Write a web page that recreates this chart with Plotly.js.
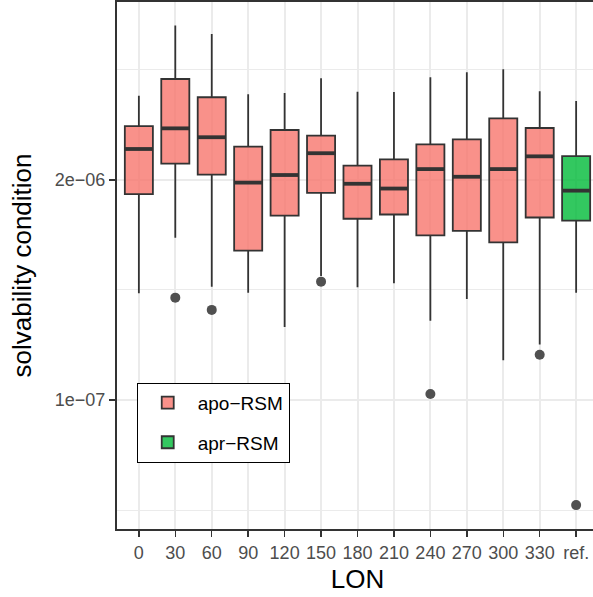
<!DOCTYPE html>
<html>
<head>
<meta charset="utf-8">
<script src="https://cdn.plot.ly/plotly-3.0.1.min.js"></script>
<style>html,body{margin:0;padding:0;overflow:hidden;background:#fff;}</style>
</head>
<body>
<div id="chart" style="width:600px;height:597px;"></div>
<script>
const categories = ['0','30','60','90','120','150','180','210','240','270','300','330','ref.'];

// apo-RSM (LON 0..330)
const apoCats   = ['0','30','60','90','120','150','180','210','240','270','300','330'];
const apoLower  = [4.28e-7, 9.12e-7, 4.68e-7, 4.31e-7, 2.70e-7, 5.41e-7, 4.64e-7, 4.90e-7, 2.94e-7, 3.96e-7, 1.72e-7, 2.13e-7];
const apoQ1     = [1.65e-6, 2.50e-6, 2.15e-6, 7.64e-7, 1.23e-6, 1.68e-6, 1.18e-6, 1.25e-6, 9.42e-7, 9.99e-7, 8.56e-7, 1.20e-6];
const apoMedian = [3.05e-6, 4.04e-6, 3.58e-6, 1.93e-6, 2.14e-6, 2.88e-6, 1.90e-6, 1.78e-6, 2.32e-6, 2.09e-6, 2.32e-6, 2.76e-6];
const apoQ3     = [4.17e-6, 7.91e-6, 6.17e-6, 3.15e-6, 3.95e-6, 3.66e-6, 2.43e-6, 2.65e-6, 3.25e-6, 3.48e-6, 4.63e-6, 4.06e-6];
const apoUpper  = [6.30e-6, 1.64e-5, 1.46e-5, 6.42e-6, 6.54e-6, 7.99e-6, 6.66e-6, 6.63e-6, 8.10e-6, 8.67e-6, 9.03e-6, 6.69e-6];

// apr-RSM (reference)
const aprCats   = ['ref.'];
const aprLower  = [4.31e-7];
const aprQ1     = [1.15e-6];
const aprMedian = [1.73e-6];
const aprQ3     = [2.77e-6];
const aprUpper  = [5.86e-6];

// outliers
const outlierCats   = ['30','60','120','150','240','330','ref.'];
const outlierValues = [4.03e-7, 3.41e-7, 5.72e-8, 5.01e-7, 1.085e-7, 1.85e-7, 2.39e-8];

const yTickVals = [1e-7, 2e-6];
const yTickText = ['1e\u221207', '2e\u221206'];
const yMinorVals = [2.236e-8, 4.472e-7, 8.944e-6];

const idx = c => categories.indexOf(c);
const BOXW = 0.77;

function boxTrace(name, cats, lo, q1, med, q3, up, fill) {
  return {
    type: 'box', name: name,
    x: cats.map(idx), lowerfence: lo, q1: q1, median: med, q3: q3, upperfence: up,
    width: BOXW, whiskerwidth: 0, boxpoints: false,
    fillcolor: fill, line: {color: '#333333', width: 1.8},
    hoverinfo: 'skip', legendgroup: name
  };
}
function medianTrace(cats, med) {
  const xs = [], ys = [];
  cats.forEach((c, i) => { const k = idx(c); xs.push(k - BOXW/2, k + BOXW/2, null); ys.push(med[i], med[i], null); });
  return {type: 'scatter', mode: 'lines', x: xs, y: ys, line: {color: '#333333', width: 3.8},
          showlegend: false, hoverinfo: 'skip'};
}

const data = [
  boxTrace('apo\u2212RSM', apoCats, apoLower, apoQ1, apoMedian, apoQ3, apoUpper, 'rgba(248,118,109,0.8)'),
  boxTrace('apr\u2212RSM', aprCats, aprLower, aprQ1, aprMedian, aprQ3, aprUpper, 'rgba(0,186,56,0.8)'),
  medianTrace(apoCats, apoMedian),
  medianTrace(aprCats, aprMedian),
  {type: 'scatter', mode: 'markers', x: outlierCats.map(idx), y: outlierValues,
   marker: {color: '#505050', size: 10}, showlegend: false, hoverinfo: 'skip'}
];

const layout = {
  width: 600, height: 597,
  margin: {l: 117, r: 2, t: 2, b: 68},
  paper_bgcolor: '#fff', plot_bgcolor: '#fff',
  font: {family: 'Liberation Sans, Arial, sans-serif', color: '#000'},
  boxmode: 'overlay',
  showlegend: true,
  legend: {x: 0.041, y: 0.2776, xanchor: 'left', yanchor: 'top',
           bgcolor: '#fff', bordercolor: '#000', borderwidth: 1,
           font: {size: 19, color: '#000'}, tracegroupgap: 12, traceorder: 'grouped',
           itemwidth: 50},
  xaxis: {
    range: [-0.6, 12.6], tickmode: 'array', tickvals: categories.map((c, i) => i), ticktext: categories,
    showgrid: true, gridcolor: '#EBEBEB', gridwidth: 2, zeroline: false,
    showline: true, linecolor: '#333333', linewidth: 2, mirror: true,
    ticks: 'outside', ticklen: 6, tickwidth: 1.5, tickcolor: '#333333',
    tickfont: {size: 18, color: '#4D4D4D'},
    title: {text: 'LON', font: {size: 26, color: '#000'}, standoff: 8}
  },
  yaxis: {
    type: 'log', range: [-7.7629, -4.6464],
    tickmode: 'array', tickvals: yTickVals, ticktext: yTickText,
    showgrid: true, gridcolor: '#EBEBEB', gridwidth: 2, zeroline: false,
    minor: {tickmode: 'array', tickvals: yMinorVals, showgrid: true, gridcolor: '#EBEBEB', gridwidth: 1, ticks: ''},
    showline: true, linecolor: '#333333', linewidth: 2, mirror: true,
    ticks: 'outside', ticklen: 6, tickwidth: 1.5, tickcolor: '#333333',
    tickfont: {size: 18, color: '#4D4D4D'},
    title: {text: 'solvability condition', font: {size: 26, color: '#000'}, standoff: 16}
  }
};

Plotly.newPlot('chart', data, layout, {displayModeBar: false, staticPlot: true});
</script>
</body>
</html>
